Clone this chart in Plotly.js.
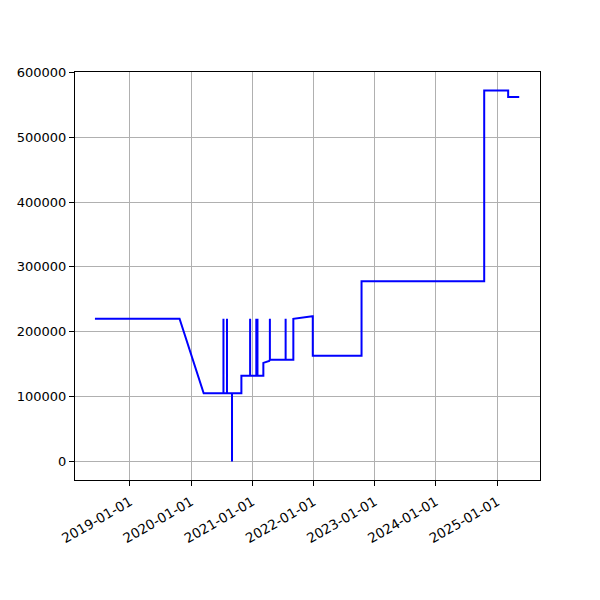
<!DOCTYPE html>
<html>
<head>
<meta charset="utf-8">
<script src="https://cdn.plot.ly/plotly-3.0.1.min.js"></script>
<style>html,body{margin:0;padding:0;background:#fff;}#chart{width:600px;height:600px;}</style>
</head>
<body>
<div id="chart"></div>
<script>
// Step-like series (date, value)
const dates = [
  '2018-06-06', '2019-10-24', '2020-03-16',
  '2020-07-12', '2020-07-12', '2020-07-12',
  '2020-08-02', '2020-08-02', '2020-08-02',
  '2020-09-01', '2020-09-01', '2020-09-01',
  '2020-10-27', '2020-10-27',
  '2020-12-18', '2020-12-18', '2020-12-18',
  '2021-01-24', '2021-01-24', '2021-01-24',
  '2021-01-31', '2021-01-31', '2021-01-31',
  '2021-03-07', '2021-03-07', '2021-04-11',
  '2021-04-15', '2021-04-15', '2021-04-15',
  '2021-07-18', '2021-07-18', '2021-07-18',
  '2021-09-02', '2021-09-02', '2021-12-24',
  '2021-12-27', '2021-12-27',
  '2022-10-14', '2022-10-14',
  '2024-10-15', '2024-10-15',
  '2025-03-07', '2025-03-07', '2025-05-12'
];
const values = [
  220000, 220000, 105000,
  105000, 220000, 105000,
  105000, 220000, 105000,
  105000, 0, 105000,
  105000, 132000,
  132000, 220000, 132000,
  132000, 220000, 132000,
  132000, 220000, 132000,
  132000, 152000, 155000,
  157000, 220000, 157000,
  157000, 220000, 157000,
  157000, 220000, 224000,
  224000, 163000,
  163000, 278000,
  278000, 572000,
  572000, 562000, 562000
];
const xTickVals = ['2019-01-01','2020-01-01','2021-01-01','2022-01-01','2023-01-01','2024-01-01','2025-01-01'];
const xTickText = ['2019-01-01','2020-01-01','2021-01-01','2022-01-01','2023-01-01','2024-01-01','2025-01-01'];
const yTickVals = [0, 100000, 200000, 300000, 400000, 500000, 600000];
const yTickText = ['0','100000','200000','300000','400000','500000','600000'];

const font = {family: 'DejaVu Sans, sans-serif', size: 13, color: '#000'};
const axisCommon = {
  showline: true, linecolor: '#000', linewidth: 1, mirror: true,
  showgrid: true, gridcolor: '#b0b0b0', gridwidth: 1,
  ticks: 'outside', ticklen: 5, tickwidth: 1, tickcolor: '#000',
  zeroline: false, tickfont: font
};
Plotly.newPlot('chart', [{
  x: dates, y: values, type: 'scatter', mode: 'lines',
  line: {color: '#0000ff', width: 2}
}], {
  width: 600, height: 600,
  margin: {l: 75, r: 60, t: 72, b: 120},
  paper_bgcolor: '#fff', plot_bgcolor: '#fff',
  showlegend: false,
  font: font,
  xaxis: Object.assign({}, axisCommon, {
    type: 'date', range: ['2018-02-07', '2025-09-13'],
    tickmode: 'array', tickvals: xTickVals, ticktext: xTickText, tickangle: -30,
    tickfont: {family: 'DejaVu Sans, sans-serif', size: 13.5, color: '#000'},
    ticklabelstandoff: 3
  }),
  yaxis: Object.assign({}, axisCommon, {
    range: [-28600, 600600],
    tickmode: 'array', tickvals: yTickVals, ticktext: yTickText
  })
}, {displayModeBar: false, staticPlot: true});
</script>
</body>
</html>
